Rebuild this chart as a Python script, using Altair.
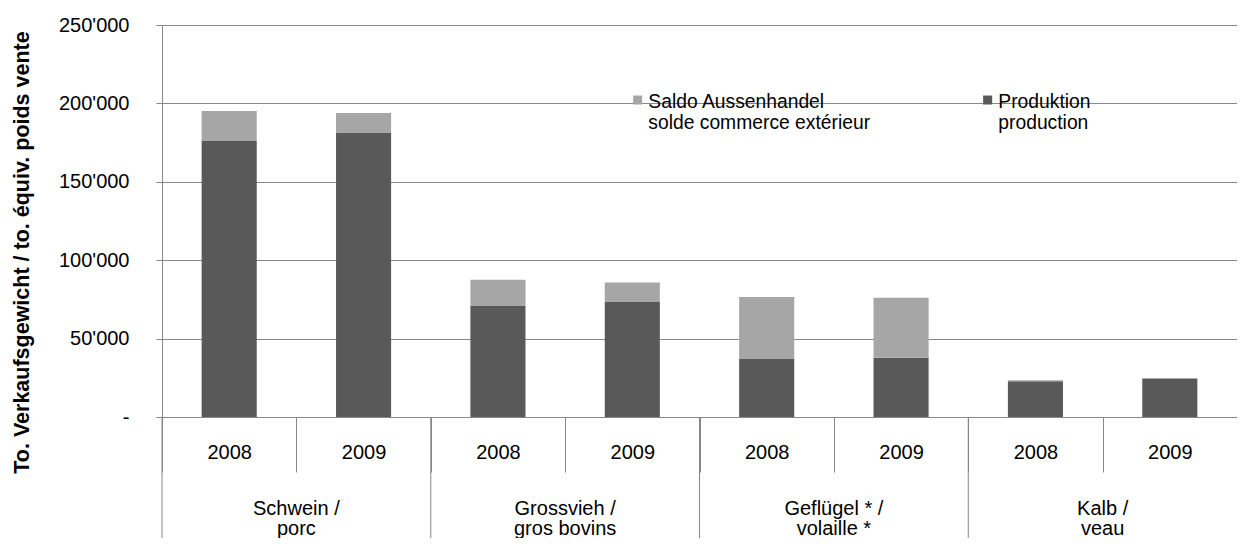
import altair as alt
import pandas as pd

cat_ids = ["Schwein", "Grossvieh", "Gefluegel", "Kalb"]
cat_labels = ["Schwein /\nporc", "Grossvieh /\ngros bovins", "Geflügel * /\nvolaille *", "Kalb /\nveau"]
years = ["2008", "2009"]
produktion = [176000, 181400, 70800, 73300, 37000, 37800, 22800, 24500]
saldo = [19200, 12500, 16800, 12400, 39500, 38200, 600, 0]
series = ["Saldo Aussenhandel|solde commerce extérieur", "Produktion|production"]
y_ticks = [0, 50000, 100000, 150000, 200000, 250000]

FONT = "Liberation Sans"
GRAY = "#878787"
DARK = "#595959"
LIGHT = "#a6a6a6"

keys = [f"{c}|{y}" for c in cat_ids for y in years]

rows = []
for i, k in enumerate(keys):
    rows.append({"key": k, "series": series[1], "value": produktion[i], "ord": 0})
    rows.append({"key": k, "series": series[0], "value": saldo[i], "ord": 1})
bar_df = pd.DataFrame(rows)

cat_df = pd.DataFrame({"key": [f"{c}|2009" for c in cat_ids], "label": cat_labels})
sep_df = pd.DataFrame({"key": [f"{c}|2008" for c in cat_ids]})

x_scale = alt.Scale(domain=keys, paddingInner=0, paddingOuter=0)
x_axis = alt.Axis(
    labelExpr="split(datum.label, '|')[1]",
    tickBand="extent",
    tickSize=55,
    tickColor=GRAY,
    tickWidth=1,
    domainColor=GRAY,
    domainWidth=1,
    labelAngle=0,
    labelFontSize=20,
    labelFont=FONT,
    labelColor="black",
    labelPadding=-20,
    labelBaseline="middle",
    grid=False,
    title=None,
)

y_label_expr = "datum.value == 0 ? '-\u00a0' : replace(format(datum.value, ','), ',', \"'\")"

bars = alt.Chart(bar_df).mark_bar(width=alt.RelativeBandSize(0.41)).encode(
    x=alt.X("key:N", scale=x_scale, axis=x_axis),
    y=alt.Y(
        "value:Q",
        stack="zero",
        scale=alt.Scale(domain=[0, 250000]),
        axis=alt.Axis(
            values=y_ticks,
            labelExpr=y_label_expr,
            tickSize=6,
            tickColor=GRAY,
            domainColor=GRAY,
            gridColor=GRAY,
            gridWidth=1,
            labelPadding=27,
            labelFontSize=20,
            labelFont=FONT,
            labelColor="black",
            titleFontSize=21.5,
            titleFont=FONT,
            titleFontWeight="bold",
            titleColor="black",
            titleAngle=270,
            titleBaseline="alphabetic",
            titleAlign="center",
            titleX=-134,
            titleY=227,
        ),
        title="To. Verkaufsgewicht / to. équiv. poids vente",
    ),
    color=alt.Color(
        "series:N",
        scale=alt.Scale(domain=series, range=[LIGHT, DARK]),
        legend=alt.Legend(
            orient="none",
            legendX=466,
            legendY=73,
            direction="horizontal",
            title=None,
            symbolType="M-1,-2.78H1V-0.78H-1Z",
            symbolSize=81,
            symbolStrokeWidth=0,
            labelFontSize=19.3,
            labelFont=FONT,
            labelColor="black",
            labelExpr="split(datum.label, '|')",
            labelBaseline="alphabetic",
            labelOffset=1,
            labelLimit=0,
            columnPadding=107,
            padding=0,
        ),
    ),
    order=alt.Order("ord:Q", sort="ascending"),
)

cats = alt.Chart(cat_df).mark_text(
    align="center", baseline="alphabetic", fontSize=20, font=FONT, color="black",
    lineBreak="\n", lineHeight=20,
).encode(
    x=alt.X("key:N", bandPosition=0, scale=x_scale, axis=x_axis),
    y=alt.value(490),
    text="label:N",
)

seps = alt.Chart(sep_df).mark_rule(color=GRAY, strokeWidth=1).encode(
    x=alt.X("key:N", bandPosition=0, scale=x_scale, axis=x_axis),
    y=alt.value(392),
    y2=alt.value(513),
)

chart = alt.layer(bars, seps, cats).properties(
    width=1075,
    height=392,
    autosize=alt.AutoSizeParams(type="none"),
    padding={"left": 154, "top": 17, "right": 0, "bottom": 121},
).configure_view(stroke=None)

chart.save("out.html", embed_options={"renderer": "svg", "actions": False})
